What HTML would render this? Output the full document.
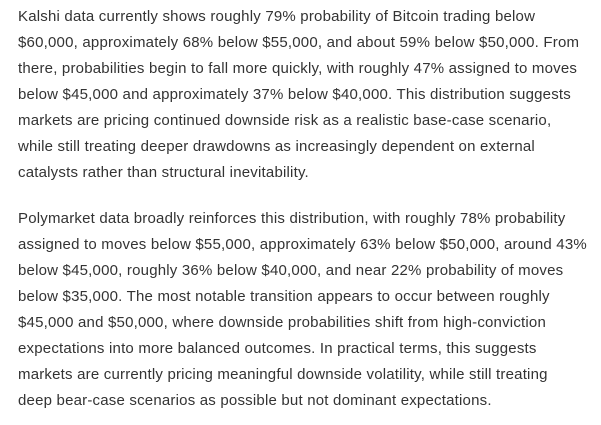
<!DOCTYPE html>
<html><head><meta charset="utf-8"><style>
html,body{margin:0;padding:0;background:#fff;width:601px;height:425px;overflow:hidden}
.t{position:absolute;left:18px;font-family:"Liberation Sans",sans-serif;font-size:15px;line-height:26px;color:#333;white-space:nowrap;letter-spacing:0.2px}
</style></head><body>
<div class="t" style="top:4px">Kalshi data currently shows roughly 79% probability of Bitcoin trading below<br>$60,000, approximately 68% below $55,000, and about 59% below $50,000. From<br>there, probabilities begin to fall more quickly, with roughly 47% assigned to moves<br>below $45,000 and approximately 37% below $40,000. This distribution suggests<br>markets are pricing continued downside risk as a realistic base-case scenario,<br>while still treating deeper drawdowns as increasingly dependent on external<br>catalysts rather than structural inevitability.</div>
<div class="t" style="top:206px">Polymarket data broadly reinforces this distribution, with roughly 78% probability<br>assigned to moves below $55,000, approximately 63% below $50,000, around 43%<br>below $45,000, roughly 36% below $40,000, and near 22% probability of moves<br>below $35,000. The most notable transition appears to occur between roughly<br>$45,000 and $50,000, where downside probabilities shift from high-conviction<br>expectations into more balanced outcomes. In practical terms, this suggests<br>markets are currently pricing meaningful downside volatility, while still treating<br>deep bear-case scenarios as possible but not dominant expectations.</div>
</body></html>
